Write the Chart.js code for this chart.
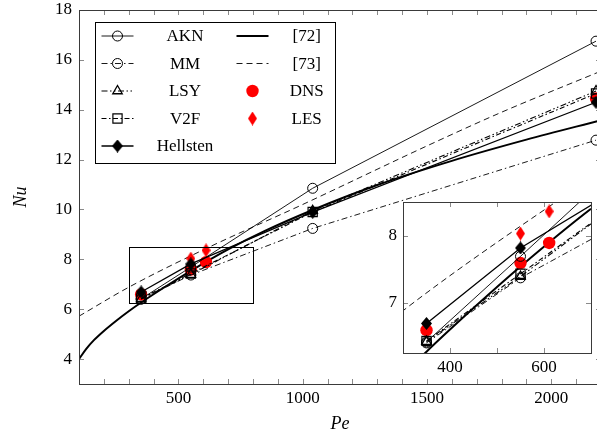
<!DOCTYPE html>
<html>
<head>
<meta charset="utf-8">
<script src="https://cdn.jsdelivr.net/npm/chart.js@4.4.1/dist/chart.umd.min.js"></script>
<style>
  html, body { margin: 0; padding: 0; background: #fff; overflow: hidden; }
  #wrap { position: relative; width: 597px; height: 439px; overflow: hidden; }
  #main { position: absolute; left: 0; top: 0; }
  #inset { position: absolute; left: 370px; top: 190px; }
</style>
</head>
<body>
<div id="wrap">
  <canvas id="main" width="620" height="439" style="width:620px;height:439px"></canvas>
  <canvas id="inset" width="240" height="198" style="width:240px;height:198px"></canvas>
</div>
<script>
// Turbulence-model results (Nusselt number vs Peclet number)
const peModels   = [350, 550, 1040, 2180];
const nuAKN      = [6.415, 7.69, 10.85, 16.75];
const nuMM       = [6.40, 7.37, 9.24, 12.78];
const nuLSY      = [6.42, 7.39, 9.95, 14.75];
const nuV2F      = [6.43, 7.43, 9.90, 14.65];
const nuHellsten = [6.69, 7.815, 9.89, 14.3];

// Reference DNS / LES data
const peDNS = [350, 550, 611, 2180];
const nuDNS = [6.59, 7.59, 7.89, 14.45];
const peLES = [550, 611];
const nuLES = [8.03, 8.36];

// Correlations [72] and [73]
const peRef72 = [100, 130, 160, 200, 250, 300, 350, 450, 550, 700, 850, 1040, 1300, 1600, 1900, 2200];
const nuRef72 = [4.0, 4.42, 4.76, 5.13, 5.54, 5.92, 6.27, 6.92, 7.54, 8.4, 9.15, 9.98, 10.98, 11.95, 12.8, 13.58];
const peRef73 = [100, 300, 600, 1000, 1500, 1800, 2200];
const nuRef73 = [5.72, 6.88, 8.38, 10.2, 12.55, 13.9, 15.55];

// Axis ticks
const peTickLabels = [500, 1000, 1500, 2000];
const nuTickLabels = [4, 6, 8, 10, 12, 14, 16, 18];
const insetPeTickLabels = [400, 600];
const insetNuTickLabels = [7, 8];

const SERIF = "'Liberation Serif', 'DejaVu Serif', serif";

function diamondImage(w, h, color) {
  const c = document.createElement('canvas');
  c.width = w; c.height = h;
  const g = c.getContext('2d');
  g.fillStyle = color;
  g.beginPath();
  g.moveTo(w / 2, 0); g.lineTo(w, h / 2); g.lineTo(w / 2, h); g.lineTo(0, h / 2);
  g.closePath(); g.fill();
  return c;
}
const hellstenMark = diamondImage(11, 13, '#000');
const lesMark = diamondImage(9, 14, '#ff0000');

const pts = (xs, ys) => xs.map((x, i) => ({ x, y: ys[i] }));

function buildDatasets() {
  const open = { pointBorderColor: '#000', pointBackgroundColor: 'rgba(0,0,0,0)', pointBorderWidth: 1, borderColor: '#000', tension: 0, fill: false };
  return [
    { ...open, label: 'AKN', data: pts(peModels, nuAKN), borderWidth: 0.9, pointStyle: 'circle', pointRadius: 5, order: 1 },
    { ...open, label: 'MM', data: pts(peModels, nuMM), borderWidth: 0.9, borderDash: [6, 3, 1.5, 3], pointStyle: 'circle', pointRadius: 5, order: 4 },
    { ...open, label: 'LSY', data: pts(peModels, nuLSY), borderWidth: 1.1, borderDash: [6, 2.5, 1.5, 2.5, 1.5, 2.5], pointStyle: 'triangle', pointRadius: 5.5, pointBorderWidth: 1.3, order: 3 },
    { ...open, label: 'V2F', data: pts(peModels, nuV2F), borderWidth: 1.1, borderDash: [5, 2.5, 1.5, 2.5], pointStyle: 'rect', pointRadius: 6.5, pointBorderWidth: 1.2, order: 2 },
    { ...open, label: 'Hellsten', data: pts(peModels, nuHellsten), borderWidth: 1.3, pointStyle: hellstenMark, pointRadius: 6, order: 0 },
    { label: '[72]', data: pts(peRef72, nuRef72), borderColor: '#000', borderWidth: 2, pointRadius: 0, cubicInterpolationMode: 'monotone', fill: false, order: 8 },
    { label: '[73]', data: pts(peRef73, nuRef73), borderColor: '#000', borderWidth: 0.9, borderDash: [6, 4], pointRadius: 0, cubicInterpolationMode: 'monotone', fill: false, order: 7 },
    { label: 'DNS', data: pts(peDNS, nuDNS), showLine: false, pointStyle: 'circle', pointRadius: 6.2, pointBackgroundColor: '#ff0000', pointBorderColor: '#ff0000', pointBorderWidth: 0, order: 6 },
    { label: 'LES', data: pts(peLES, nuLES), showLine: false, pointStyle: lesMark, pointRadius: 6, order: 5 }
  ];
}

// Frame, inward ticks and (optionally) the zoom rectangle
function axisFrame(cfg) {
  return {
    id: 'axisFrame',
    afterDatasetsDraw(chart) {
      const { ctx, chartArea: a, scales: { x, y } } = chart;
      ctx.save();
      ctx.lineWidth = 1;
      ctx.strokeStyle = '#8a8a8a';
      ctx.beginPath();
      cfg.xTicks.forEach(v => {
        const px = Math.round(x.getPixelForValue(v)) + 0.5;
        ctx.moveTo(px, a.bottom); ctx.lineTo(px, a.bottom - cfg.len);
        ctx.moveTo(px, a.top); ctx.lineTo(px, a.top + cfg.len);
      });
      cfg.yTicks.forEach(v => {
        const py = Math.round(y.getPixelForValue(v)) + 0.5;
        ctx.moveTo(a.left, py); ctx.lineTo(a.left + cfg.len, py);
        ctx.moveTo(a.right, py); ctx.lineTo(a.right - cfg.len, py);
      });
      ctx.stroke();
      if (cfg.box) {
        const b = cfg.box;
        const x0 = Math.round(x.getPixelForValue(b.x0)) + 0.5, x1 = Math.round(x.getPixelForValue(b.x1)) + 0.5;
        const y0 = Math.round(y.getPixelForValue(b.y0)) + 0.5, y1 = Math.round(y.getPixelForValue(b.y1)) + 0.5;
        ctx.strokeStyle = '#000';
        ctx.strokeRect(x0, y1, x1 - x0, y0 - y1);
      }
      ctx.strokeStyle = '#3a3a3a';
      ctx.strokeRect(Math.round(a.left) + 0.5, Math.round(a.top) + 0.5, Math.round(a.right - a.left), Math.round(a.bottom - a.top));
      ctx.restore();
    }
  };
}

// Two-column framed legend built from the datasets
const boxLegend = {
  id: 'boxLegend',
  afterDraw(chart) {
    const { ctx, chartArea: a } = chart;
    const ds = chart.data.datasets;
    const bx = a.left + 16, by = a.top + 11.5, bw = 240, bh = 141;
    ctx.save();
    ctx.fillStyle = '#fff';
    ctx.fillRect(bx, by, bw, bh);
    ctx.strokeStyle = '#000'; ctx.lineWidth = 1;
    ctx.strokeRect(Math.round(bx) + 0.5, Math.round(by) + 0.5, bw, bh);
    const cols = [{ s: 22.5, t: 90 }, { s: 157.5, t: 211.7 }];
    ds.forEach((d, i) => {
      const col = i < 5 ? cols[0] : cols[1];
      const row = i < 5 ? i : i - 5;
      const cy = by + 14.5 + row * 27.5;
      const cx = bx + col.s;
      if (d.showLine !== false) {
        ctx.save();
        ctx.strokeStyle = '#000';
        ctx.lineWidth = d.borderWidth;
        ctx.setLineDash(d.borderDash || []);
        ctx.beginPath(); ctx.moveTo(cx - 16, cy); ctx.lineTo(cx + 16, cy); ctx.stroke();
        ctx.restore();
      }
      if (d.pointRadius > 0) {
        ctx.save();
        ctx.fillStyle = d.pointBackgroundColor || '#000';
        ctx.strokeStyle = d.pointBorderColor || '#000';
        ctx.lineWidth = d.pointBorderWidth || 0;
        Chart.helpers.drawPoint(ctx, { pointStyle: d.pointStyle, radius: d.pointRadius, rotation: 0, borderWidth: d.pointBorderWidth || 0 }, cx, cy);
        ctx.restore();
      }
      ctx.fillStyle = '#000';
      ctx.font = '17px ' + SERIF;
      ctx.textAlign = 'center';
      ctx.textBaseline = 'middle';
      ctx.fillText(d.label, bx + col.t, cy + 1);
    });
    ctx.restore();
  }
};

const whiteArea = {
  id: 'whiteArea',
  beforeDraw(chart) {
    const { ctx, chartArea: a } = chart;
    ctx.save(); ctx.fillStyle = '#fff';
    ctx.fillRect(a.left, a.top, a.right - a.left, a.bottom - a.top);
    ctx.restore();
  }
};

const tickFont = { family: SERIF, size: 17 };
const titleFont = { family: SERIF, size: 18, style: 'italic' };

// keep the plot area fixed by the layout padding alone
const fixX = h => s => { s.height = h; s.paddingLeft = 0; s.paddingRight = 0; };
const fixY = w => s => { s.width = w; s.paddingTop = 0; s.paddingBottom = 0; };

const peMinor = [];
for (let v = 200; v < 2200; v += 100) peMinor.push(v);

new Chart(document.getElementById('main'), {
  type: 'line',
  data: { datasets: buildDatasets() },
  options: {
    responsive: false,
    animation: false,
    layout: { padding: { top: 10, right: 19, left: 0, bottom: 0 } },
    plugins: { legend: { display: false }, tooltip: { enabled: false } },
    scales: {
      x: {
        type: 'linear', min: 100, max: 2200,
        grid: { display: false, drawTicks: false }, border: { display: false },
        afterBuildTicks: s => { s.ticks = peTickLabels.map(v => ({ value: v })); },
        afterFit: fixX(55),
        ticks: { font: tickFont, color: '#000', padding: 4, maxRotation: 0, autoSkip: false, callback: v => String(v) },
        title: { display: true, text: 'Pe', font: titleFont, color: '#000', padding: { top: 0, bottom: 4 } }
      },
      y: {
        type: 'linear', min: 3, max: 18,
        grid: { display: false, drawTicks: false }, border: { display: false },
        afterBuildTicks: s => { s.ticks = nuTickLabels.map(v => ({ value: v })); },
        afterFit: fixY(79),
        ticks: { font: tickFont, color: '#000', padding: 7, autoSkip: false, callback: v => String(v) },
        title: { display: true, text: 'Nu', font: titleFont, color: '#000', padding: { top: 10, bottom: 0 } }
      }
    }
  },
  plugins: [axisFrame({ xTicks: peMinor, yTicks: nuTickLabels, len: 5, box: { x0: 300, x1: 800, y0: 6.25, y1: 8.5 } }), boxLegend]
});

new Chart(document.getElementById('inset'), {
  type: 'line',
  data: { datasets: buildDatasets() },
  options: {
    responsive: false,
    animation: false,
    layout: { padding: { top: 12, right: 19, left: 0, bottom: 0 } },
    plugins: { legend: { display: false }, tooltip: { enabled: false } },
    scales: {
      x: {
        type: 'linear', min: 300, max: 700,
        grid: { display: false, drawTicks: false }, border: { display: false },
        afterBuildTicks: s => { s.ticks = insetPeTickLabels.map(v => ({ value: v })); },
        afterFit: fixX(35),
        ticks: { font: tickFont, color: '#000', padding: 4, maxRotation: 0, autoSkip: false, callback: v => String(v) }
      },
      y: {
        type: 'linear', min: 6.25, max: 8.5,
        grid: { display: false, drawTicks: false }, border: { display: false },
        afterBuildTicks: s => { s.ticks = insetNuTickLabels.map(v => ({ value: v })); },
        afterFit: fixY(33),
        ticks: { font: tickFont, color: '#000', padding: 6, autoSkip: false, callback: v => String(v) }
      }
    }
  },
  plugins: [whiteArea, axisFrame({ xTicks: [400, 500, 600], yTicks: insetNuTickLabels, len: 5 })]
});
</script>
</body>
</html>
